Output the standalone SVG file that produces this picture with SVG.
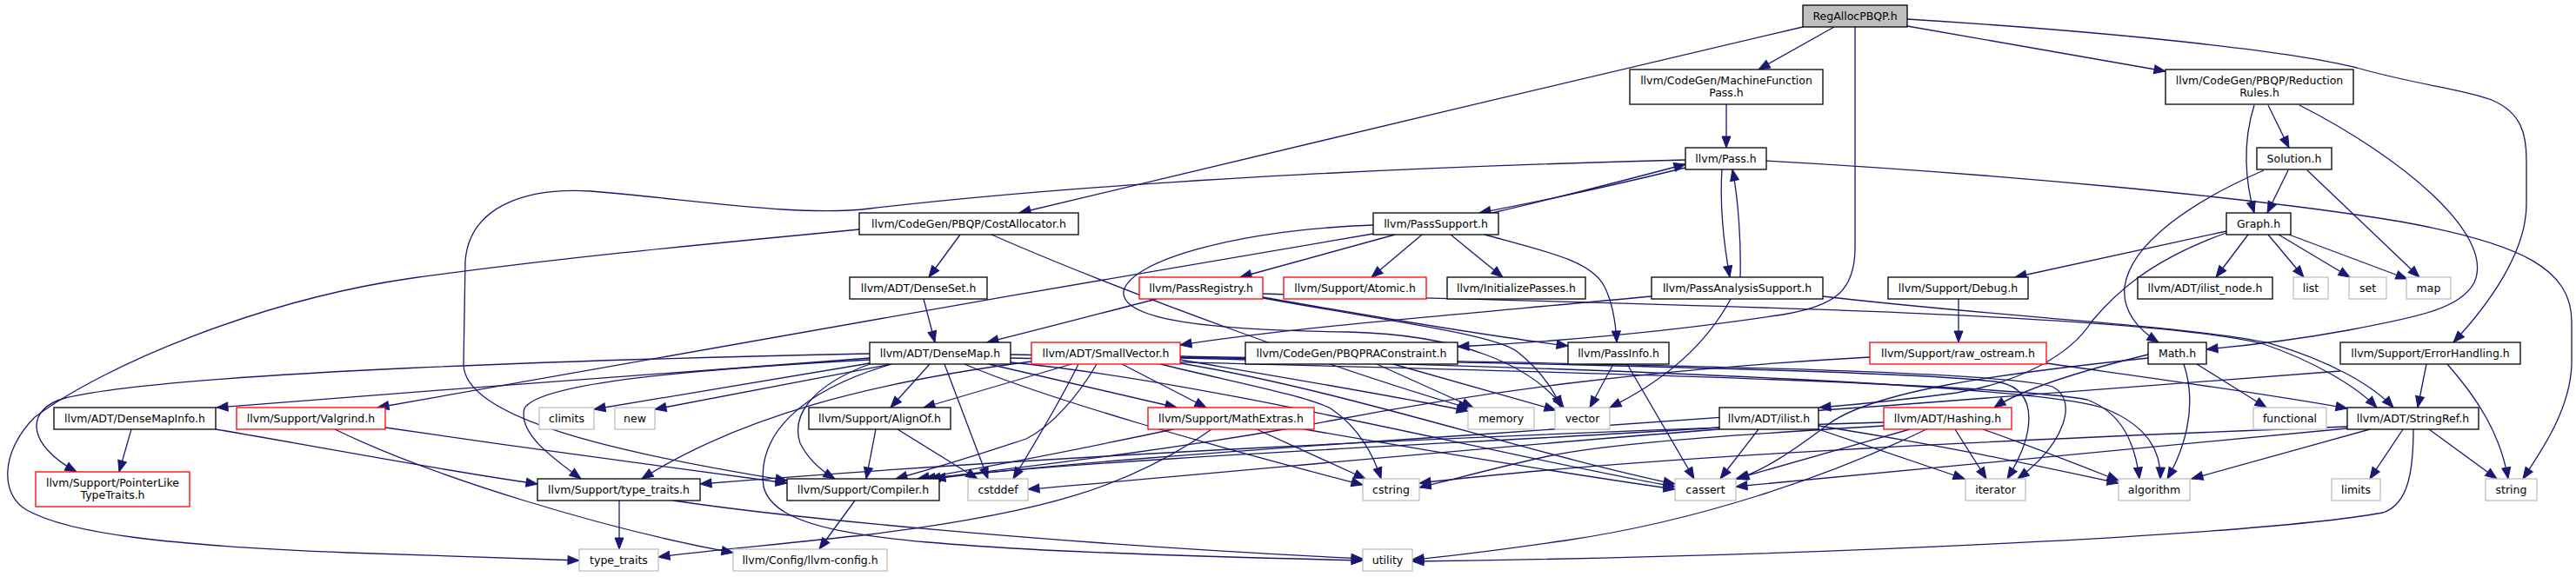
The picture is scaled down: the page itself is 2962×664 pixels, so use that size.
<svg xmlns="http://www.w3.org/2000/svg" width="2962" height="664" viewBox="0 0 2962 664">
<defs>
<marker id="a" viewBox="0 0 13 10" refX="13" refY="5" markerWidth="13" markerHeight="10" markerUnits="userSpaceOnUse" orient="auto" overflow="visible">
<path d="M0,0 L13,5 L0,10 Z" fill="#191970" stroke="#191970" stroke-width="1"/>
</marker>
<style>
.n rect{fill:#fff;stroke:#000;stroke-width:1.3}
.n.r rect{stroke:#ff0000}
.n.g rect{stroke:#bfbfbf}
.n.root rect{fill:#bfbfbf}
text{font-family:"DejaVu Sans","Liberation Sans",sans-serif;font-size:12.5px;text-anchor:middle;fill:#000}
#edges path{fill:none;stroke:#191970;stroke-width:1.3;marker-end:url(#a)}
</style>
</defs>
<rect width="2962" height="664" fill="#fff"/>
<g id="edges">
<path d="M2073,31 C1800,95 1400,190 1172,245"/>
<path d="M2109,31 L2022,80"/>
<path d="M2133,31 L2133,285 C2133,335 2110,352 2050,362 C1920,382 1790,393 1676,399"/>
<path d="M2193,30 L2490,82"/>
<path d="M2193,22 C2450,38 2640,60 2710,78 C2780,98 2830,102 2865,115 C2900,130 2905,155 2905,185 L2905,235 C2905,290 2862,350 2821,394"/>
<path d="M1985,120 L1985,170"/>
<path d="M2592,121 C2578,165 2582,210 2592,245"/>
<path d="M2608,121 L2632,170"/>
<path d="M2644,121 C2760,180 2870,270 2845,325 C2830,355 2780,365 2700,380 C2640,391 2580,398 2537,402"/>
<path d="M2631,196 L2607,245"/>
<path d="M2653,196 L2782,319"/>
<path d="M2603,196 C2520,232 2450,280 2443,330 C2440,360 2460,380 2482,394"/>
<path d="M2585,270 L2548,319"/>
<path d="M2608,270 L2649,319"/>
<path d="M2620,270 L2702,319"/>
<path d="M2632,270 L2768,321"/>
<path d="M2560,266 L2317,319"/>
<path d="M2560,268 C2470,300 2430,340 2405,370 C2380,410 2320,440 2250,452 C2190,460 2140,465 2092,469"/>
<path d="M2252,344 L2252,394"/>
<path d="M1938,184 C1700,190 1300,205 1000,240 C920,250 800,230 680,220 C600,215 540,240 535,300 L533,420 C535,480 700,520 905,553"/>
<path d="M2031,185 C2300,200 2600,228 2760,255 C2900,280 2957,310 2957,370 L2957,420 C2955,470 2925,515 2901,551"/>
<path d="M1938,193 C1860,212 1770,232 1701,245"/>
<path d="M1716,245 C1790,228 1870,207 1938,189"/>
<path d="M1980,195 C1977,240 1982,280 1989,319"/>
<path d="M2001,319 C2002,280 1999,230 1992,195"/>
<path d="M1604,270 L1426,319"/>
<path d="M1635,270 L1577,319"/>
<path d="M1668,270 L1728,319"/>
<path d="M1707,270 C1780,290 1830,300 1845,330 C1855,350 1858,375 1859,394"/>
<path d="M1579,269 C1200,333 700,420 434,469"/>
<path d="M1579,259 C1420,265 1300,300 1292,335 C1288,370 1400,380 1550,382 C1680,385 1760,420 1798,469"/>
<path d="M1899,341 C1700,360 1500,375 1357,397"/>
<path d="M1990,344 C1960,400 1910,440 1851,469"/>
<path d="M2096,341 C2300,365 2520,375 2610,395 C2680,415 2730,445 2752,469"/>
<path d="M1104,270 L1068,319"/>
<path d="M1140,270 C1300,340 1550,430 1690,470"/>
<path d="M988,264 C800,282 650,296 474,320 C300,345 120,420 40,480 C0,520 0,570 31,587 C80,615 200,628 400,636 C500,640 600,643 666,645"/>
<path d="M1062,344 L1075,394"/>
<path d="M1330,344 C1260,362 1200,378 1135,394"/>
<path d="M1452,342 C1600,368 1720,388 1803,398"/>
<path d="M1452,343 C1600,370 1720,385 1745,405 C1770,425 1785,445 1795,469"/>
<path d="M1452,338 C1900,350 2450,360 2600,395 C2660,415 2710,445 2733,469"/>
<path d="M1000,412 C800,425 500,450 249,469"/>
<path d="M1000,407 C700,413 200,428 75,458 C30,470 28,510 88,543"/>
<path d="M1000,414 C800,425 620,440 603,470 C595,500 640,530 668,551"/>
<path d="M1000,419 C930,445 910,480 920,510 C930,530 945,542 960,551"/>
<path d="M1000,418 L683,471"/>
<path d="M1025,419 L753,471"/>
<path d="M1069,419 L1024,469"/>
<path d="M1086,419 L1136,551"/>
<path d="M1137,419 L1353,469"/>
<path d="M1109,419 C1200,458 1400,515 1567,558"/>
<path d="M1025,419 C920,450 870,500 878,560 C890,610 1000,622 1200,633 C1350,640 1480,643 1567,645"/>
<path d="M1162,417 C1400,440 1750,530 1926,560"/>
<path d="M1162,408 C1600,415 2200,425 2300,440 C2345,450 2340,500 2308,551"/>
<path d="M1162,412 C1700,425 2300,440 2400,460 C2440,475 2455,510 2460,551"/>
<path d="M1232,419 L1062,469"/>
<path d="M1261,419 C1240,455 1210,490 1180,505 C1120,525 1070,540 1030,551"/>
<path d="M1290,419 L1387,469"/>
<path d="M1240,419 C1220,460 1190,510 1165,551"/>
<path d="M1186,416 C1000,440 850,480 738,551"/>
<path d="M1334,419 C1420,440 1500,455 1530,470 C1560,490 1578,520 1588,551"/>
<path d="M1357,414 C1480,435 1600,455 1688,473"/>
<path d="M1357,418 C1550,450 1750,520 1926,557"/>
<path d="M1357,410 C1800,418 2300,425 2360,445 C2390,460 2375,510 2320,551"/>
<path d="M1357,412 C1900,425 2350,445 2420,470 C2470,490 2485,520 2484,551"/>
<path d="M1349,494 C1250,515 1150,535 1055,551"/>
<path d="M1445,494 L1570,551"/>
<path d="M1500,494 C1650,520 1800,545 1926,563"/>
<path d="M1393,494 C1300,560 1200,590 1000,615 C880,628 800,635 757,641"/>
<path d="M1007,494 L996,551"/>
<path d="M1032,494 L1124,551"/>
<path d="M983,576 L942,632"/>
<path d="M712,576 L712,632"/>
<path d="M774,576 C900,595 1200,625 1567,643"/>
<path d="M151,494 L137,543"/>
<path d="M248,494 C400,520 500,540 618,557"/>
<path d="M443,492 C600,515 780,540 905,556"/>
<path d="M385,494 C500,550 700,610 843,636"/>
<path d="M1855,419 L1828,469"/>
<path d="M1871,419 L1948,551"/>
<path d="M1583,419 L1694,469"/>
<path d="M1602,419 L1789,472"/>
<path d="M2353,418 C2480,436 2600,452 2699,470"/>
<path d="M2150,411 C1900,425 1700,450 1500,490 C1300,525 1150,540 1068,551"/>
<path d="M2790,419 L2780,469"/>
<path d="M2814,419 C2850,460 2875,500 2884,551"/>
<path d="M2691,427 C2400,450 2000,480 1700,500 C1400,520 1200,535 1074,551"/>
<path d="M2470,408 C2400,425 2330,445 2293,469"/>
<path d="M2470,412 C2300,430 2150,450 2100,490 C2060,520 2030,540 1998,551"/>
<path d="M2526,419 L2606,469"/>
<path d="M2511,419 C2528,470 2510,520 2492,551"/>
<path d="M2022,494 L1978,551"/>
<path d="M2091,494 L2259,551"/>
<path d="M2091,490 C2250,515 2360,540 2436,556"/>
<path d="M1977,492 C1700,510 1300,525 1062,551"/>
<path d="M1977,494 C1700,515 1400,545 1182,563"/>
<path d="M2196,494 L1996,551"/>
<path d="M2248,494 L2284,551"/>
<path d="M2280,494 C2340,515 2390,535 2436,553"/>
<path d="M2215,494 C2100,550 1950,600 1800,622 C1730,632 1670,640 1624,644"/>
<path d="M2166,490 C2000,500 1850,510 1780,525 C1720,538 1670,552 1632,561"/>
<path d="M2166,486 C1700,500 1200,525 805,557"/>
<path d="M2699,493 C2400,520 2200,540 1996,560"/>
<path d="M2725,494 L2520,551"/>
<path d="M2763,494 L2725,551"/>
<path d="M2793,494 L2871,551"/>
<path d="M2775,494 C2775,540 2770,580 2740,590 C2600,615 2100,640 1624,646"/>
<path d="M2699,491 C2200,510 1850,530 1632,556"/>
</g>
<g id="n_regalloc" class="n root"><rect x="2073" y="6" width="120" height="25"/><text x="2133" y="23">RegAllocPBQP.h</text></g>
<g id="n_mfp" class="n"><rect x="1874" y="80" width="222" height="40"/><text x="1985" y="97">llvm/CodeGen/MachineFunction</text><text x="1985" y="111">Pass.h</text></g>
<g id="n_rr" class="n"><rect x="2490" y="80" width="216" height="40"/><text x="2598" y="97">llvm/CodeGen/PBQP/Reduction</text><text x="2598" y="111">Rules.h</text></g>
<g id="n_pass" class="n"><rect x="1938" y="170" width="93" height="25"/><text x="1984.5" y="187">llvm/Pass.h</text></g>
<g id="n_solution" class="n"><rect x="2595" y="170" width="86" height="25"/><text x="2638" y="187">Solution.h</text></g>
<g id="n_costalloc" class="n"><rect x="988" y="245" width="252" height="25"/><text x="1114" y="262">llvm/CodeGen/PBQP/CostAllocator.h</text></g>
<g id="n_passsupport" class="n"><rect x="1579" y="245" width="144" height="25"/><text x="1651" y="262">llvm/PassSupport.h</text></g>
<g id="n_graph" class="n"><rect x="2560" y="245" width="74" height="25"/><text x="2597" y="262">Graph.h</text></g>
<g id="n_denseset" class="n"><rect x="977" y="319" width="158" height="25"/><text x="1056" y="336">llvm/ADT/DenseSet.h</text></g>
<g id="n_passregistry" class="n r"><rect x="1310" y="319" width="142" height="25"/><text x="1381" y="336">llvm/PassRegistry.h</text></g>
<g id="n_atomic" class="n r"><rect x="1476" y="319" width="164" height="25"/><text x="1558" y="336">llvm/Support/Atomic.h</text></g>
<g id="n_initpasses" class="n"><rect x="1664" y="319" width="159" height="25"/><text x="1743.5" y="336">llvm/InitializePasses.h</text></g>
<g id="n_pas" class="n"><rect x="1899" y="319" width="197" height="25"/><text x="1997.5" y="336">llvm/PassAnalysisSupport.h</text></g>
<g id="n_debug" class="n"><rect x="2171" y="319" width="161" height="25"/><text x="2251.5" y="336">llvm/Support/Debug.h</text></g>
<g id="n_ilistnode" class="n"><rect x="2458" y="319" width="155" height="25"/><text x="2535.5" y="336">llvm/ADT/ilist_node.h</text></g>
<g id="n_list" class="n g"><rect x="2637" y="319" width="40" height="25"/><text x="2657" y="336">list</text></g>
<g id="n_set" class="n g"><rect x="2701" y="319" width="43" height="25"/><text x="2722.5" y="336">set</text></g>
<g id="n_map" class="n g"><rect x="2767" y="319" width="51" height="25"/><text x="2792.5" y="336">map</text></g>
<g id="n_densemap" class="n"><rect x="1000" y="394" width="162" height="25"/><text x="1081" y="411">llvm/ADT/DenseMap.h</text></g>
<g id="n_smallvector" class="n r"><rect x="1186" y="394" width="171" height="25"/><text x="1271.5" y="411">llvm/ADT/SmallVector.h</text></g>
<g id="n_pbqpra" class="n"><rect x="1432" y="394" width="244" height="25"/><text x="1554" y="411">llvm/CodeGen/PBQPRAConstraint.h</text></g>
<g id="n_passinfo" class="n"><rect x="1803" y="394" width="116" height="25"/><text x="1861" y="411">llvm/PassInfo.h</text></g>
<g id="n_rawostream" class="n r"><rect x="2150" y="394" width="203" height="25"/><text x="2251.5" y="411">llvm/Support/raw_ostream.h</text></g>
<g id="n_math" class="n"><rect x="2470" y="394" width="67" height="25"/><text x="2503.5" y="411">Math.h</text></g>
<g id="n_errorhandling" class="n"><rect x="2691" y="394" width="207" height="25"/><text x="2794.5" y="411">llvm/Support/ErrorHandling.h</text></g>
<g id="n_densemapinfo" class="n"><rect x="62" y="469" width="186" height="25"/><text x="155" y="486">llvm/ADT/DenseMapInfo.h</text></g>
<g id="n_valgrind" class="n r"><rect x="272" y="469" width="171" height="25"/><text x="357.5" y="486">llvm/Support/Valgrind.h</text></g>
<g id="n_climits" class="n g"><rect x="620" y="469" width="63" height="25"/><text x="651.5" y="486">climits</text></g>
<g id="n_new" class="n g"><rect x="707" y="469" width="46" height="25"/><text x="730" y="486">new</text></g>
<g id="n_alignof" class="n"><rect x="930" y="469" width="163" height="25"/><text x="1011.5" y="486">llvm/Support/AlignOf.h</text></g>
<g id="n_mathextras" class="n r"><rect x="1320" y="469" width="191" height="25"/><text x="1415.5" y="486">llvm/Support/MathExtras.h</text></g>
<g id="n_memory" class="n g"><rect x="1688" y="469" width="76" height="25"/><text x="1726" y="486">memory</text></g>
<g id="n_vector" class="n g"><rect x="1788" y="469" width="63" height="25"/><text x="1819.5" y="486">vector</text></g>
<g id="n_ilist" class="n"><rect x="1977" y="469" width="114" height="25"/><text x="2034" y="486">llvm/ADT/ilist.h</text></g>
<g id="n_hashing" class="n r"><rect x="2166" y="469" width="147" height="25"/><text x="2239.5" y="486">llvm/ADT/Hashing.h</text></g>
<g id="n_functional" class="n g"><rect x="2591" y="469" width="84" height="25"/><text x="2633" y="486">functional</text></g>
<g id="n_stringref" class="n"><rect x="2699" y="469" width="151" height="25"/><text x="2774.5" y="486">llvm/ADT/StringRef.h</text></g>
<g id="n_pointerlike" class="n r"><rect x="41" y="543" width="177" height="40"/><text x="129.5" y="560">llvm/Support/PointerLike</text><text x="129.5" y="574">TypeTraits.h</text></g>
<g id="n_typetraitsh" class="n"><rect x="618" y="551" width="187" height="25"/><text x="711.5" y="568">llvm/Support/type_traits.h</text></g>
<g id="n_compiler" class="n"><rect x="905" y="551" width="175" height="25"/><text x="992.5" y="568">llvm/Support/Compiler.h</text></g>
<g id="n_cstddef" class="n g"><rect x="1113" y="551" width="69" height="25"/><text x="1147.5" y="568">cstddef</text></g>
<g id="n_cstring" class="n g"><rect x="1567" y="551" width="65" height="25"/><text x="1599.5" y="568">cstring</text></g>
<g id="n_cassert" class="n g"><rect x="1926" y="551" width="70" height="25"/><text x="1961" y="568">cassert</text></g>
<g id="n_iterator" class="n g"><rect x="2260" y="551" width="69" height="25"/><text x="2294.5" y="568">iterator</text></g>
<g id="n_algorithm" class="n g"><rect x="2436" y="551" width="82" height="25"/><text x="2477" y="568">algorithm</text></g>
<g id="n_limits" class="n g"><rect x="2681" y="551" width="56" height="25"/><text x="2709" y="568">limits</text></g>
<g id="n_string" class="n g"><rect x="2858" y="551" width="59" height="25"/><text x="2887.5" y="568">string</text></g>
<g id="n_typetraits" class="n g"><rect x="666" y="632" width="91" height="25"/><text x="711.5" y="649">type_traits</text></g>
<g id="n_llvmconfig" class="n g"><rect x="843" y="632" width="177" height="25"/><text x="931.5" y="649">llvm/Config/llvm-config.h</text></g>
<g id="n_utility" class="n g"><rect x="1567" y="632" width="57" height="25"/><text x="1595.5" y="649">utility</text></g>
</svg>
